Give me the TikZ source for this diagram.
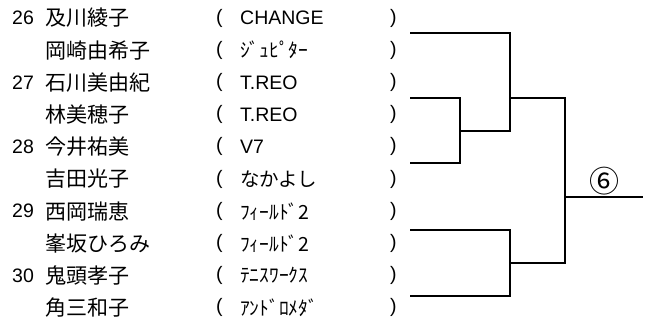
\documentclass[tikz,border=0pt]{standalone}
\usepackage{fontspec}
\setmainfont{Liberation Sans}
\newfontfamily\jp{Noto Sans CJK JP}

\begin{document}
\begin{tikzpicture}[x=1pt, y=-1pt]
  \tikzset{
    entry/.style={anchor=west, inner sep=0pt, font=\fontsize{19.5pt}{20pt}\selectfont},
    player/.style={entry, font=\fontsize{21pt}{22pt}\selectfont\jp},
    bracket/.style={line width=2.6pt, line join=miter},
    round/.style={inner sep=0pt, font=\fontsize{30pt}{30pt}\selectfont\jp},
  }
  \useasboundingbox (0,0) rectangle (650,326);

  % players and teams
  \foreach \i/\num/\name/\team in {
      1/26/及川綾子/CHANGE,
      2//岡崎由希子/{\jp ｼﾞｭﾋﾟﾀｰ},
      3/27/石川美由紀/T.REO,
      4//林美穂子/T.REO,
      5/28/今井祐美/V7,
      6//吉田光子/{\jp なかよし},
      7/29/西岡瑞恵/{\jp ﾌｨｰﾙﾄﾞ2},
      8//峯坂ひろみ/{\jp ﾌｨｰﾙﾄﾞ2},
      9/30/鬼頭孝子/{\jp ﾃﾆｽﾜｰｸｽ},
      10//角三和子/{\jp ｱﾝﾄﾞﾛﾒﾀﾞ}} {
    \pgfmathsetmacro\y{18+32.2*(\i-1)}
    \node[entry] (num\i) at (12,\y) {\num};
    \node[player] (name\i) at (45,\y) {\name};
    \node[entry] (open\i) at (216,\y) {(};
    \node[entry] (team\i) at (240,\y) {\team};
    \node[entry] (close\i) at (390,\y) {)};
  }

  % first round
  \coordinate (pair1) at (410,33);
  \coordinate (pair2) at (410,98);
  \coordinate (pair3) at (410,163);
  \coordinate (pair4) at (410,230);
  \coordinate (pair5) at (410,296);
  \coordinate (final) at (643,197);

  \draw[bracket] (pair2) -- (460,98) -- (460,163) -- (pair3);
  \draw[bracket] (pair1) -- (510,33) -- (510,131) -- (460,131);
  \draw[bracket] (pair4) -- (510,230) -- (510,296) -- (pair5);

  % second round
  \draw[bracket] (510,98) -- (565,98) -- (565,263) -- (510,263);
  \draw[bracket] (565,197) -- (final);
  \node[round] (block) at (604,181) {⑥};
\end{tikzpicture}
\end{document}
